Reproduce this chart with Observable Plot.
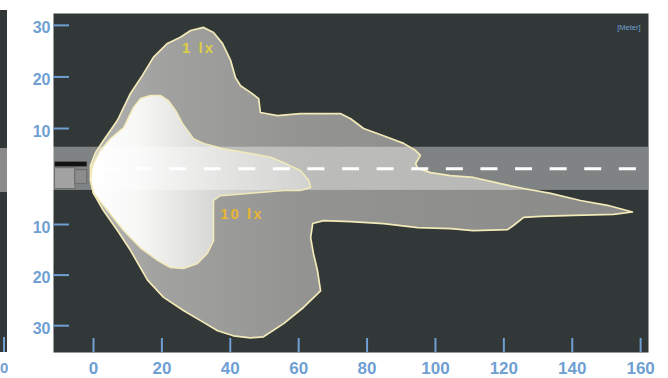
<!DOCTYPE html>
<html>
<head>
<meta charset="utf-8">
<script src="https://cdn.jsdelivr.net/npm/d3@7"></script>
<script src="https://cdn.jsdelivr.net/npm/@observablehq/plot@0.6"></script>
<style>
  body { margin: 0; background: #ffffff; font-family: "Liberation Sans", Arial, sans-serif; }
  #wrap { position: relative; width: 668px; height: 378px; overflow: hidden; background: #fff; }
  #chart { position: absolute; left: 0; top: 0; }
  #strip { position: absolute; left: 0; top: 10px; width: 7px; height: 342px; background: #323737; }
  #stripBand { position: absolute; left: 0; top: 138px; width: 7px; height: 44px; background: #8a8a8a; }
  #stripTick { position: absolute; left: 3px; top: 327px; width: 2px; height: 15px; background: #6f9fd3; }
  #stripLabel { position: absolute; left: 0px; top: 359px; font: bold 15px "Liberation Sans", Arial, sans-serif; color: #6f9fd3; }
</style>
</head>
<body>
<div id="wrap">
  <div id="strip"><div id="stripBand"></div><div id="stripTick"></div></div>
  <div id="stripLabel">0</div>
  <div id="chart"></div>
</div>
<script>
// ---- data (metres) ----
const xTicks = [0, 20, 40, 60, 80, 100, 120, 140, 160];
const yTicks = [-30, -20, -10, 10, 20, 30];
const xDomain = [-11.7, 162.3];
// the drawing's lateral axis is not uniform: the band between -10 and +10 m is compressed
const yBreaks = [-35.3, -10, 10, 32.3];
const yUnits = [0, 128, 224, 339];

// 1 lx isoline (outer)
const outer1lx = [
  [-0.9,2.3],[0.6,5.0],[2.9,7.5],[7.0,11.6],[10.8,16.8],[14.3,20.3],[17.5,23.8],[21.6,26.5],
  [25.4,27.7],[28.4,29.0],[32.2,29.6],[35.1,28.6],[37.7,26.5],[40.1,23.2],[41.5,19.9],[43.0,18.3],
  [45.9,17.0],[48.3,15.8],[48.8,13.1],[53.8,12.5],[60.5,12.9],[72.2,12.9],[75.2,11.9],[79.0,10.0],
  [84.8,8.5],[90.7,6.9],[94.2,5.4],[95.6,4.4],[94.2,2.7],[94.8,1.7],[98.6,0.8],[104.4,0.2],
  [111.1,-0.2],[119.0,-1.5],[125.8,-2.5],[133.7,-3.5],[142.4,-5.0],[150.3,-6.0],[157.6,-7.4],
  [152.1,-7.9],[140.4,-8.1],[130.7,-8.3],[125.8,-8.5],[122.8,-10.2],[121.1,-11.0],[111.1,-11.2],
  [104.4,-10.8],[94.8,-10.6],[84.8,-9.8],[75.2,-9.4],[67.3,-9.2],[64.1,-9.8],[63.5,-12.6],
  [64.3,-15.7],[65.5,-19.1],[66.4,-23.1],[61.4,-26.4],[55.6,-29.6],[49.7,-32.2],[45.9,-32.4],
  [40.9,-32.0],[36.3,-31.0],[31.3,-29.0],[26.3,-27.0],[20.5,-24.4],[15.8,-21.0],[10.8,-15.1],
  [7.0,-11.2],[2.9,-7.1],[0.0,-3.5],[-0.9,-0.8]
];

// 10 lx isoline (inner)
const inner10lx = [
  [-0.3,2.3],[2.0,5.4],[5.0,7.9],[8.8,10.2],[11.7,14.1],[13.7,15.8],[16.7,16.4],[19.6,16.4],
  [21.9,15.4],[24.0,13.5],[26.0,11.0],[27.5,9.6],[29.2,7.9],[32.2,6.9],[38.0,5.8],[45.9,4.8],
  [51.8,4.0],[55.6,2.9],[60.5,1.25],[62.9,-0.8],[63.5,-2.3],[60.5,-2.9],[55.6,-2.9],[45.9,-3.5],
  [37.1,-4.0],[35.1,-5.0],[35.1,-9.2],[35.1,-13.2],[33.3,-15.7],[30.4,-17.7],[26.3,-18.7],
  [22.5,-18.5],[18.7,-17.1],[13.7,-14.6],[8.8,-11.2],[4.1,-7.1],[0.0,-3.5],[-0.9,-0.8]
];

const isoLabels = [
  {text: "1 lx", x: 30.7, y: 25.6, color: "#dccf45"},
  {text: "10 lx", x: 43.4, y: -7.9, color: "#e9b535"}
];

const road = [{x1: xDomain[0], x2: xDomain[1], y1: -2.9, y2: 6.1}];
const laneLine = [{x1: 2, x2: 161, y: 1.6}];
const carParts = [
  {x1: -11.2, x2: -5.3, y1: -2.6, y2: 1.7, fill: "#a2a2a2"},
  {x1: -11.2, x2: -1.8, y1: 2.0, y2: 3.0, fill: "#121212"},
  {x1: -5.3, x2: -1.8, y1: -1.5, y2: 1.3, fill: "#8c8c8c"}
];

const blue = "#6f9fd3";
const stroke = "#f2eab8";

const warp = d3.scaleLinear().domain(yBreaks).range(yUnits);
const Y = m => warp(m);

const plot = Plot.plot({
  width: 668,
  height: 378,
  marginLeft: 53,
  marginRight: 20,
  marginTop: 13,
  marginBottom: 26,
  style: {background: "transparent", fontFamily: "'Liberation Sans', Arial, sans-serif"},
  x: {domain: xDomain},
  y: {domain: [yUnits[0], yUnits[yUnits.length - 1]]},
  marks: [
    Plot.frame({fill: "#323737", stroke: "none"}),
    Plot.line(outer1lx, {x: d => d[0], y: d => Y(d[1]), curve: "linear-closed", fill: "url(#gOuter)", stroke: "none"}),
    Plot.line(inner10lx, {x: d => d[0], y: d => Y(d[1]), curve: "linear-closed", fill: "url(#gInner)", stroke: "none"}),
    Plot.rect(road, {x1: "x1", x2: "x2", y1: d => Y(d.y1), y2: d => Y(d.y2), fill: "#ffffff", fillOpacity: 0.38}),
    Plot.rect(carParts, {x1: "x1", x2: "x2", y1: d => Y(d.y1), y2: d => Y(d.y2), fill: d => d.fill, stroke: "#5a5a5a", strokeWidth: 0.6}),
    Plot.line(outer1lx, {x: d => d[0], y: d => Y(d[1]), curve: "linear-closed", stroke: stroke, strokeWidth: 1.7}),
    Plot.line(inner10lx, {x: d => d[0], y: d => Y(d[1]), curve: "linear-closed", stroke: stroke, strokeWidth: 1.5}),
    Plot.ruleY(laneLine, {x1: "x1", x2: "x2", y: d => Y(d.y), stroke: "#ffffff", strokeWidth: 3, strokeDasharray: "17,17.6"}),
    Plot.text(isoLabels, {x: "x", y: d => Y(d.y), text: "text", fill: d => d.color, fontSize: 15, fontWeight: "bold"}),
    Plot.text(["[Meter]"], {frameAnchor: "top-right", dx: -8, dy: 11, fill: blue, fontSize: 7.5, textAnchor: "end"}),
    Plot.ruleX(xTicks, {x: d => d, stroke: blue, strokeWidth: 2, insetTop: 325}),
    Plot.ruleY(yTicks, {y: d => Y(d), stroke: blue, strokeWidth: 2, insetRight: 579}),
    Plot.axisX({ticks: xTicks, tickSize: 0, tickPadding: 9, fontSize: 17, fontWeight: "bold", color: blue, label: null}),
    Plot.axisY({ticks: yTicks.map(Y), tickFormat: u => Math.abs(Math.round(warp.invert(u))), tickSize: 0, tickPadding: 3, dy: 3, fontSize: 16, fontWeight: "bold", color: blue, label: null})
  ]
});

const svg = d3.select(plot);
const defs = svg.insert("defs", ":first-child");
const gO = defs.append("linearGradient").attr("id", "gOuter").attr("x1", 0).attr("x2", 1).attr("y1", 0).attr("y2", 0);
[[0, "#b4b4b2"], [0.12, "#a2a2a0"], [0.4, "#939391"], [1, "#8a8a88"]].forEach(([o, c]) => gO.append("stop").attr("offset", o).attr("stop-color", c));
const gI = defs.append("linearGradient").attr("id", "gInner").attr("x1", 0).attr("x2", 1).attr("y1", 0).attr("y2", 0);
[[0, "#ffffff"], [0.22, "#f7f7f6"], [0.55, "#d8d8d6"], [1, "#b6b6b4"]].forEach(([o, c]) => gI.append("stop").attr("offset", o).attr("stop-color", c));
svg.selectAll("text").filter(function () { return this.textContent.includes("lx"); }).style("letter-spacing", "2px");

document.getElementById("chart").appendChild(plot);
</script>
</body>
</html>
